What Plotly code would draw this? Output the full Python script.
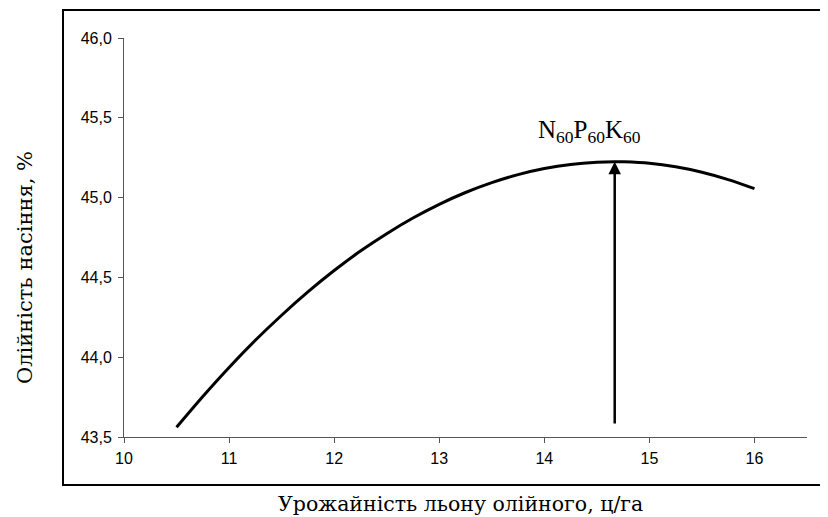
import plotly.graph_objects as go

# Data
yield_x = [10.5, 10.75, 11.0, 11.25, 11.5, 11.75, 12.0, 12.25, 12.5, 12.75, 13.0, 13.25,
           13.5, 13.75, 14.0, 14.25, 14.5, 14.67, 14.75, 15.0, 15.25, 15.5, 15.75, 16.0]
oil_y = [43.561, 43.754, 43.936, 44.106, 44.263, 44.409, 44.543, 44.665, 44.774, 44.872,
         44.958, 45.032, 45.094, 45.144, 45.182, 45.208, 45.222, 45.225, 45.224, 45.215,
         45.193, 45.159, 45.113, 45.056]
x_ticks = [10, 11, 12, 13, 14, 15, 16]
y_ticks = [43.5, 44.0, 44.5, 45.0, 45.5, 46.0]
opt_x = 14.67
opt_y = 45.225
arrow_base_y = 43.575
opt_label = "N<sub>60</sub>P<sub>60</sub>K<sub>60</sub>"
x_title = "Урожайність льону олійного, ц/га"
y_title = "Олійність насіння, %"

SERIF = "DejaVu Serif"
LATIN_SERIF = "Liberation Serif"
SANS = "Liberation Sans"

fig = go.Figure()
fig.add_trace(go.Scatter(x=yield_x, y=oil_y, mode="lines",
                         line=dict(color="black", width=3, shape="spline", smoothing=1.0),
                         hoverinfo="skip", showlegend=False))

fig.add_annotation(x=opt_x, y=opt_y, ax=opt_x, ay=arrow_base_y,
                   xref="x", yref="y", axref="x", ayref="y",
                   showarrow=True, arrowhead=2, arrowsize=1, arrowwidth=2.5,
                   arrowcolor="black", text="", standoff=0)
fig.add_annotation(x=opt_x - 0.24, y=opt_y + 0.19, xref="x", yref="y",
                   text=opt_label, showarrow=False, yanchor="middle",
                   font=dict(family=LATIN_SERIF, size=25, color="black"))

# axis titles
fig.add_annotation(x=0.493, y=-0.168, xref="paper", yref="paper",
                   text=x_title, showarrow=False, xanchor="center", yanchor="middle",
                   font=dict(family=SERIF, size=20.5, color="black"))
fig.add_annotation(x=-0.145, y=0.426, xref="paper", yref="paper",
                   text=y_title, showarrow=False, textangle=-90,
                   xanchor="center", yanchor="middle",
                   font=dict(family=SERIF, size=21, color="black"))

# outer frame
fig.add_shape(type="rect", xref="paper", yref="paper",
              x0=-0.0893, x1=1.03, y0=-0.12, y1=1.07,
              line=dict(color="black", width=2), fillcolor="rgba(0,0,0,0)")

fig.update_layout(
    width=828, height=517,
    margin=dict(l=116, r=29, t=30, b=88),
    paper_bgcolor="white", plot_bgcolor="white",
    separators=", ",
    showlegend=False,
    xaxis=dict(range=[10, 16.5], tickvals=x_ticks, ticks="outside", ticklen=5,
               tickcolor="#555", showline=True, linecolor="#555", linewidth=1,
               showgrid=False, zeroline=False, automargin=False,
               ticklabelstandoff=2,
               tickfont=dict(family=SANS, size=16, color="black")),
    yaxis=dict(range=[43.5, 46.0], tickvals=y_ticks, tickformat=".1f",
               ticks="outside", ticklen=5, tickcolor="#555",
               showline=True, linecolor="#555", linewidth=1,
               showgrid=False, zeroline=False, automargin=False,
               ticklabelstandoff=3,
               tickfont=dict(family=SANS, size=16, color="black")),
)

fig.write_html("out.html")
